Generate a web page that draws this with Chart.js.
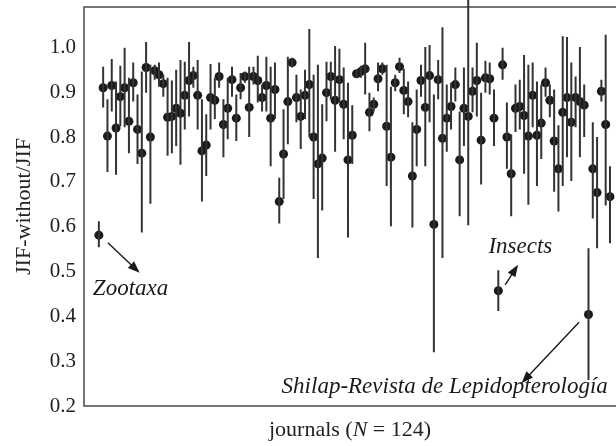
<!DOCTYPE html>
<html>
<head>
<meta charset="utf-8">
<title>JIF-without/JIF</title>
<script src="https://cdn.jsdelivr.net/npm/chart.js@4.4.0/dist/chart.umd.min.js"></script>
<style>
    body { margin: 0; overflow: hidden; background: #fff; }
    #wrap { position: relative; width: 660px; height: 446px; }
</style>
</head>
<body>
<div id="wrap"><canvas id="canvas"></canvas></div>
<script>
// JIF-without / JIF per journal, with the interval for each journal
const ratio = [
    0.581, 0.910, 0.802, 0.915, 0.820, 0.890, 0.910, 0.835, 0.921, 0.817,
    0.764, 0.955, 0.800, 0.948, 0.939, 0.919, 0.844, 0.846, 0.864, 0.853,
    0.893, 0.926, 0.937, 0.893, 0.769, 0.782, 0.888, 0.882, 0.935, 0.828,
    0.864, 0.928, 0.842, 0.910, 0.935, 0.866, 0.935, 0.926, 0.888, 0.915,
    0.842, 0.906, 0.656, 0.762, 0.879, 0.966, 0.888, 0.846, 0.893, 0.917,
    0.800, 0.740, 0.753, 0.899, 0.935, 0.882, 0.928, 0.873, 0.749, 0.804,
    0.941, 0.946, 0.952, 0.855, 0.873, 0.930, 0.952, 0.824, 0.755, 0.921,
    0.957, 0.904, 0.879, 0.713, 0.817, 0.926, 0.866, 0.937, 0.605, 0.928,
    0.797, 0.842, 0.868, 0.917, 0.749, 0.864, 0.846, 0.902, 0.926, 0.793,
    0.932, 0.930, 0.842, 0.457, 0.961, 0.800, 0.718, 0.864, 0.868, 0.848,
    0.802, 0.893, 0.804, 0.831, 0.921, 0.882, 0.791, 0.729, 0.855, 0.888,
    0.833, 0.888, 0.879, 0.871, 0.404, 0.729, 0.676, 0.902, 0.828, 0.667
];
const upper = [
    0.612, 0.957, 0.884, 0.974, 0.924, 0.959, 0.999, 0.932, 0.966, 0.895,
    0.946, 1.012, 0.961, 0.961, 0.966, 0.939, 0.932, 0.926, 0.950, 0.972,
    0.968, 1.012, 0.957, 0.972, 0.884, 0.851, 0.963, 0.932, 0.966, 0.884,
    0.932, 0.957, 0.895, 0.943, 0.946, 0.957, 0.957, 0.981, 0.917, 0.979,
    0.957, 0.966, 0.709, 0.862, 0.979, 0.977, 0.939, 0.906, 0.950, 1.041,
    0.939, 0.961, 0.873, 0.968, 0.968, 1.003, 0.997, 0.955, 0.921, 0.871,
    0.950, 0.959, 1.010, 0.899, 0.888, 0.966, 0.966, 0.961, 0.912, 0.939,
    0.977, 0.952, 0.924, 0.833, 0.906, 0.961, 1.001, 1.005, 0.895, 0.972,
    1.045, 0.917, 0.921, 0.955, 0.857, 0.955, 1.120, 0.955, 1.010, 0.899,
    0.970, 0.966, 0.906, 0.503, 0.999, 0.877, 0.806, 0.917, 0.928, 0.983,
    0.961, 0.966, 0.924, 0.917, 0.955, 0.917, 0.906, 0.826, 1.025, 1.023,
    0.966, 0.935, 1.001, 0.917, 0.552, 0.833, 0.800, 0.928, 1.028, 0.735
];
const lower = [
    0.554, 0.866, 0.722, 0.857, 0.716, 0.824, 0.822, 0.764, 0.879, 0.740,
    0.587, 0.899, 0.651, 0.928, 0.912, 0.890, 0.758, 0.764, 0.780, 0.738,
    0.817, 0.846, 0.910, 0.817, 0.656, 0.713, 0.817, 0.840, 0.910, 0.755,
    0.795, 0.890, 0.791, 0.884, 0.921, 0.800, 0.917, 0.877, 0.857, 0.857,
    0.735, 0.840, 0.607, 0.662, 0.784, 0.955, 0.833, 0.773, 0.840, 0.800,
    0.662, 0.530, 0.636, 0.835, 0.884, 0.767, 0.877, 0.795, 0.576, 0.740,
    0.932, 0.932, 0.895, 0.813, 0.857, 0.902, 0.939, 0.691, 0.601, 0.902,
    0.943, 0.851, 0.844, 0.598, 0.735, 0.890, 0.735, 0.833, 0.320, 0.884,
    0.530, 0.767, 0.817, 0.879, 0.623, 0.780, 0.603, 0.855, 0.846, 0.694,
    0.899, 0.895, 0.780, 0.412, 0.928, 0.729, 0.623, 0.811, 0.817, 0.718,
    0.649, 0.822, 0.691, 0.751, 0.890, 0.844, 0.678, 0.634, 0.691, 0.755,
    0.702, 0.822, 0.755, 0.800, 0.258, 0.618, 0.552, 0.879, 0.647, 0.563
];
const yTicks = [0.2, 0.3, 0.4, 0.5, 0.6, 0.7, 0.8, 0.9, 1.0];
const yTitle = 'JIF-without/JIF';
const nJournals = 124;

// labelled journals: index in the series, text
const notes = [
    { idx: 0,   text: 'Zootaxa' },
    { idx: 93,  text: 'Insects' },
    { idx: 114, text: 'Shilap-Revista de Lepidopterología' }
];

var serif = '"Liberation Serif", "Times New Roman", serif';

var points = ratio.map(function (v, i) { return { x: i, y: v }; });
var bars = [];
ratio.forEach(function (v, i) {
    bars.push({ x: i, y: lower[i] });
    bars.push({ x: i, y: upper[i] });
    bars.push({ x: i, y: null });
});

function arrow(ctx, x1, y1, x2, y2) {
    var a = Math.atan2(y2 - y1, x2 - x1);
    var len = 12, w = 4.5;
    ctx.beginPath();
    ctx.moveTo(x1, y1);
    ctx.lineTo(x2 - Math.cos(a) * len * 0.8, y2 - Math.sin(a) * len * 0.8);
    ctx.stroke();
    ctx.beginPath();
    ctx.moveTo(x2, y2);
    ctx.lineTo(x2 - Math.cos(a) * len - Math.sin(a) * w, y2 - Math.sin(a) * len + Math.cos(a) * w);
    ctx.lineTo(x2 - Math.cos(a) * len + Math.sin(a) * w, y2 - Math.sin(a) * len - Math.cos(a) * w);
    ctx.closePath();
    ctx.fill();
}

var framePlugin = {
    id: 'frame',
    beforeDatasetsDraw: function (chart) {
        var c = chart.ctx, a = chart.chartArea;
        c.save();
        c.strokeStyle = '#4a4a4a';
        c.lineWidth = 1.5;
        c.beginPath();
        c.moveTo(a.right + 5, a.top);
        c.lineTo(a.left, a.top);
        c.lineTo(a.left, a.bottom);
        c.lineTo(a.right + 5, a.bottom);
        c.stroke();
        c.restore();
    },
    afterDraw: function (chart) {
        var c = chart.ctx, xs = chart.scales.x, ys = chart.scales.y;
        c.save();
        c.fillStyle = '#1a1a1a';
        c.strokeStyle = '#1a1a1a';
        c.lineWidth = 1.4;
        c.font = 'italic 23px ' + serif;
        c.textBaseline = 'middle';

        // Zootaxa
        c.textAlign = 'left';
        c.fillText(notes[0].text, xs.getPixelForValue(notes[0].idx - 1.4), ys.getPixelForValue(0.461));
        arrow(c, xs.getPixelForValue(notes[0].idx + 2.1), ys.getPixelForValue(0.564),
                 xs.getPixelForValue(notes[0].idx + 9.5), ys.getPixelForValue(0.497));

        // Insects
        c.fillText(notes[1].text, xs.getPixelForValue(notes[1].idx - 2.3), ys.getPixelForValue(0.555));
        arrow(c, xs.getPixelForValue(notes[1].idx + 1.6), ys.getPixelForValue(0.470),
                 xs.getPixelForValue(notes[1].idx + 4.6), ys.getPixelForValue(0.515));

        // Shilap
        c.textAlign = 'right';
        c.fillText(notes[2].text, xs.getPixelForValue(notes[2].idx + 4.5), ys.getPixelForValue(0.242));
        arrow(c, xs.getPixelForValue(notes[2].idx - 2.2), ys.getPixelForValue(0.387),
                 xs.getPixelForValue(notes[2].idx - 15.6), ys.getPixelForValue(0.251));

        // x axis title with italic N
        var p1 = 'journals (', p2 = 'N', p3 = ' = ' + nJournals + ')';
        var reg = '22px ' + serif, ita = 'italic 22px ' + serif;
        c.font = reg; var w1 = c.measureText(p1).width, w3 = c.measureText(p3).width;
        c.font = ita; var w2 = c.measureText(p2).width;
        var x0 = 350 - (w1 + w2 + w3) / 2, y0 = 430;
        c.textAlign = 'left';
        c.fillStyle = '#222';
        c.font = reg; c.fillText(p1, x0, y0);
        c.font = ita; c.fillText(p2, x0 + w1, y0);
        c.font = reg; c.fillText(p3, x0 + w1 + w2, y0);
        c.restore();
    }
};

new Chart(document.getElementById('canvas'), {
    type: 'scatter',
    data: {
        datasets: [{
            label: 'interval',
            data: bars,
            showLine: true,
            spanGaps: false,
            pointRadius: 0,
            borderColor: '#333',
            borderWidth: 2,
            clip: false
        }, {
            label: 'JIF-without/JIF',
            data: points,
            pointRadius: 4.5,
            pointBackgroundColor: '#1a1a1a',
            pointBorderWidth: 0,
            borderColor: '#1a1a1a'
        }]
    },
    options: {
        responsive: true,
        maintainAspectRatio: false,
        animation: false,
        layout: { padding: { top: 7, bottom: 40, left: 0, right: 0 } },
        plugins: { legend: { display: false }, tooltip: { enabled: false } },
        scales: {
            x: { type: 'linear', min: -3.46, max: 129.6, display: false },
            y: {
                min: 0.2,
                max: 1.09,
                afterBuildTicks: function (s) { s.ticks = yTicks.map(function (v) { return { value: v }; }); },
                afterFit: function (s) { s.width = 84; s.paddingTop = 0; s.paddingBottom = 0; },
                grid: { display: false, drawTicks: false },
                border: { display: false },
                ticks: {
                    padding: 8,
                    color: '#222',
                    font: { family: serif, size: 21 },
                    callback: function (v) { return Number(v).toFixed(1); }
                },
                title: {
                    display: true,
                    text: yTitle,
                    color: '#222',
                    font: { family: serif, size: 22 },
                    padding: { top: 11, bottom: 0 }
                }
            }
        }
    },
    plugins: [framePlugin]
});
</script>
</body>
</html>
